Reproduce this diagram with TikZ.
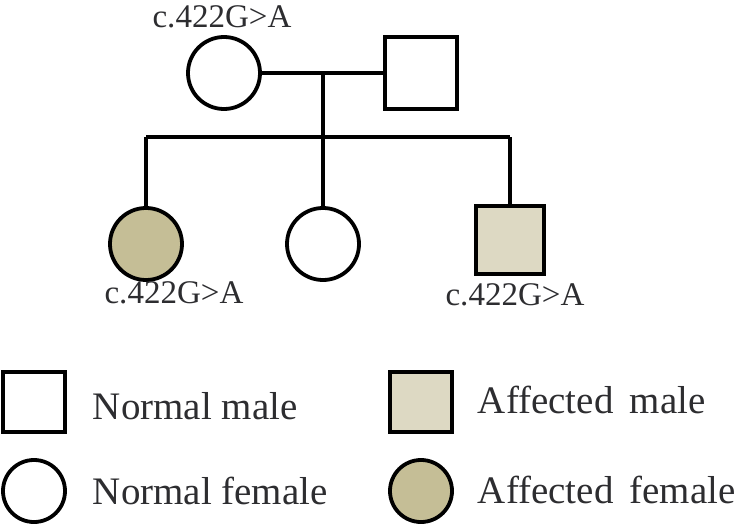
\documentclass[tikz,border=0pt]{standalone}
\usepackage{fontspec}
\setmainfont{Liberation Serif}
\usetikzlibrary{positioning}

\definecolor{affF}{RGB}{197,190,150}
\definecolor{affM}{RGB}{221,217,195}
\definecolor{txt}{RGB}{45,45,48}

\begin{document}
\begin{tikzpicture}[x=0.025cm, y=-0.025cm,
        female/.style={circle, draw=black, line width=2.7pt, fill=white, minimum size=1.8cm, inner sep=0pt},
        male/.style={rectangle, draw=black, line width=2.7pt, fill=white, minimum size=1.8cm, inner sep=0pt},
        affectedf/.style={female, fill=affF},
        affectedm/.style={male, fill=affM, minimum size=1.7cm},
        keyf/.style={female, minimum width=1.55cm, minimum height=1.55cm},
        keym/.style={male, minimum width=1.55cm, minimum height=1.5cm},
        mutlabel/.style={text=txt, font=\fontsize{23.5}{26}\selectfont},
        keylabel/.style={text=txt, anchor=west, font=\fontsize{27.7}{30}\selectfont},
        link/.style={line width=2.7pt, black}
    ]
    \useasboundingbox (0,0) rectangle (736,526);

    % Parents
    \node[female] (mother) at (224, 73) {};
    \node[male] (father) at (421, 73) {};
    \node[mutlabel] (mlab) at (222, 17) {c.422G>A};

    % Children
    \node[affectedf] (daughter1) at (146, 244) {};
    \node[female] (daughter2) at (323, 244) {};
    \node[affectedm] (son) at (510, 240) {};
    \node[mutlabel] (d1lab) at (174, 293) {c.422G>A};
    \node[mutlabel] (slab) at (515, 295) {c.422G>A};

    % Lines of descent
    \coordinate (mid) at (323, 73);
    \coordinate (sib) at (323, 137);
    \coordinate (sibL) at (146, 137);
    \coordinate (sibR) at (510, 137);
    \draw[link] (mother) -- (father);
    \draw[link] (mid) -- (sib);
    \draw[link] (sibL) -- (sibR);
    \draw[link] (sibL) -- (daughter1);
    \draw[link] (sib) -- (daughter2);
    \draw[link] (sibR) -- (son);

    % Key
    \node[keym] (km) at (34, 402) {};
    \node[keyf] (kf) at (34, 491) {};
    \node[keym, fill=affM] (kam) at (421, 402) {};
    \node[keyf, fill=affF] (kaf) at (421, 491) {};
    \node[keylabel] (kmlab) at (88, 406) {Normal male};
    \node[keylabel] (kflab) at (88, 491) {Normal female};
    \node[keylabel] (kamlab) at (473, 400) {Affected\,  male};
    \node[keylabel] (kaflab) at (473, 490) {Affected\, female};
\end{tikzpicture}
\end{document}
